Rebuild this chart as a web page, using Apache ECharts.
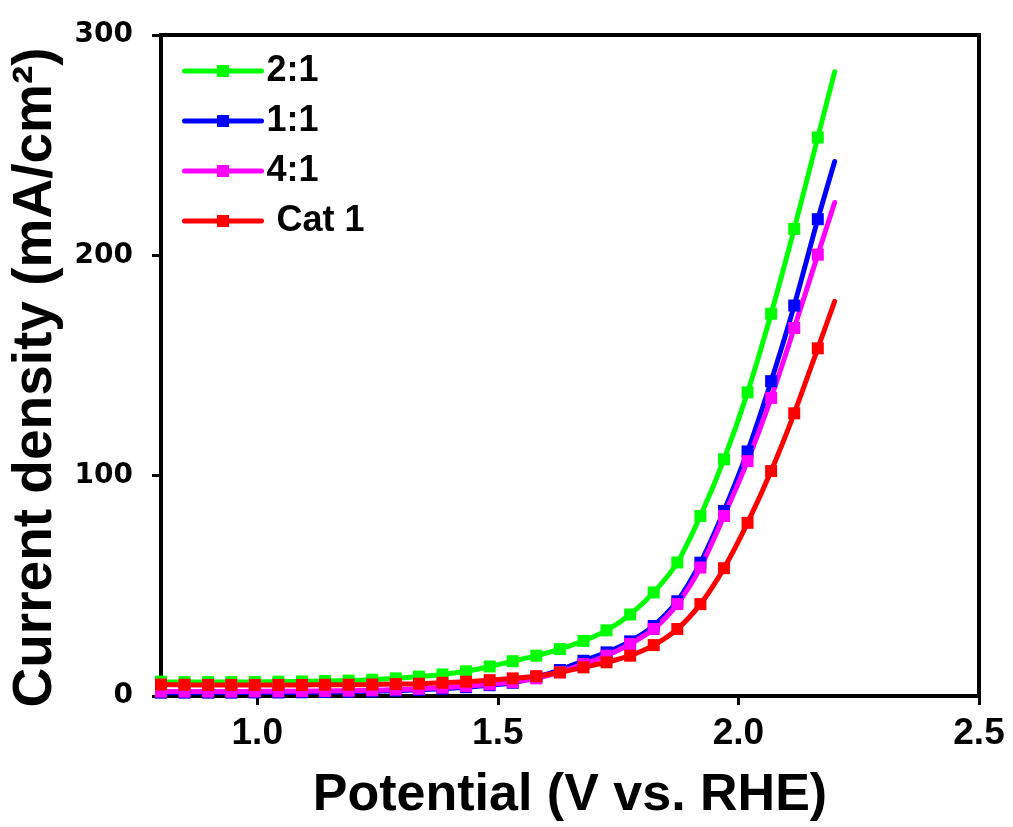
<!DOCTYPE html>
<html>
<head>
<meta charset="utf-8">
<script src="https://cdn.jsdelivr.net/npm/echarts@6/dist/echarts.min.js"></script>
<style>
html,body{margin:0;padding:0;background:#fff;}
#chart{width:1013px;height:827px;}
</style>
</head>
<body>
<div id="chart"></div>
<script>
// Potential (V vs. RHE)
const potentials = [0.800,0.849,0.898,0.946,0.995,1.044,1.093,1.141,1.190,1.239,1.288,1.336,1.385,1.434,1.483,1.531,1.580,1.629,1.678,1.726,1.775,1.824,1.873,1.921,1.970,2.019,2.068,2.116,2.165,2.200];
// Current density (mA/cm2)
const j21   = [6.5,6.3,6.3,6.3,6.4,6.5,6.6,6.8,7.0,7.4,8.0,8.8,9.8,11.2,13.4,15.8,18.3,21.3,25.0,29.8,37.0,47.0,60.6,81.7,107.4,137.8,173.5,212.0,253.5,283.3];
const j11   = [1.5,1.5,1.5,1.5,1.6,1.6,1.7,1.8,1.9,2.1,2.4,2.8,3.3,4.0,4.9,6.0,8.6,11.8,16.0,19.8,24.8,31.8,43.0,60.5,84.0,111.0,142.9,177.2,216.4,242.6];
const j41   = [2.0,2.0,2.0,2.0,2.1,2.1,2.2,2.3,2.4,2.6,2.9,3.3,3.8,4.5,5.3,6.3,8.0,10.8,14.5,18.3,23.6,30.4,41.7,58.3,81.7,106.6,135.3,167.0,200.3,224.0];
const jCat1 = [5.2,5.1,5.0,5.0,5.0,5.0,5.0,5.1,5.1,5.2,5.4,5.6,6.0,6.5,7.2,8.0,9.0,10.7,13.0,15.3,18.3,23.1,30.4,41.7,58.0,78.6,102.1,128.3,157.8,179.1];
const seriesNames = ['2:1','1:1','4:1',' Cat 1'];
const seriesColors = ['#00ff00','#0000ff','#ff00ff','#ff0000'];
const xTicks = [1.0,1.5,2.0,2.5];
const yTicks = [0,100,200,300];

const allValues = [j21,j11,j41,jCat1];
const lastIdx = potentials.length - 1;

const chart = echarts.init(document.getElementById('chart'), null, {renderer:'canvas'});
const series = allValues.map((vals, k) => ({
  name: seriesNames[k],
  type: 'line',
  data: potentials.map((x, i) => i === lastIdx ? {value: [x, vals[i]], symbol: 'none'} : [x, vals[i]]),
  smooth: 0.25,
  symbol: 'rect',
  symbolSize: 12,
  showAllSymbol: true,
  color: seriesColors[k],
  itemStyle: {color: seriesColors[k]},
  lineStyle: {width: 5, color: seriesColors[k], cap: 'round'},
  emphasis: {disabled: true}
}));

chart.setOption({
  animation: false,
  backgroundColor: '#ffffff',
  grid: {left: 161, right: 34, top: 35, bottom: 130, show: true, borderColor: '#000', borderWidth: 4, backgroundColor: '#ffffff'},
  legend: {
    left: 177, top: 48, orient: 'vertical',
    itemWidth: 77, itemHeight: 15, itemGap: 14,
    lineStyle: {width: 5},
    textStyle: {fontFamily: "'Liberation Sans', Arial, sans-serif", fontWeight: 'bold', fontSize: 36, color: '#000', lineHeight: 36},
    data: seriesNames
  },
  xAxis: {
    type: 'value', min: 0.8, max: 2.5,
    name: 'Potential (V vs. RHE)', nameLocation: 'middle', nameGap: 74,
    nameTextStyle: {fontFamily: "'Liberation Sans', Arial, sans-serif", fontWeight: 'bold', fontSize: 52, color: '#000'},
    axisLine: {lineStyle: {color: '#000', width: 4}},
    axisTick: {show: true, inside: false, length: 9, lineStyle: {color: '#000', width: 3}, customValues: xTicks},
    axisLabel: {customValues: xTicks, margin: 19, formatter: v => Number(v).toFixed(1),
      fontFamily: "'Liberation Sans', Arial, sans-serif", fontWeight: 'bold', fontSize: 37, color: '#000'},
    splitLine: {show: false}
  },
  yAxis: {
    type: 'value', min: 0, max: 300, interval: 100,
    name: 'Current density (mA/cm²)', nameLocation: 'middle', nameGap: 94, nameRotate: 90,
    nameTextStyle: {fontFamily: "'Liberation Sans', Arial, sans-serif", fontWeight: 'bold', fontSize: 55, color: '#000', padding: [0, 24, 0, 0]},
    axisLine: {show: true, lineStyle: {color: '#000', width: 4}},
    axisTick: {show: true, inside: false, length: 9, lineStyle: {color: '#000', width: 3}, customValues: yTicks},
    axisLabel: {customValues: yTicks, margin: 28,
      fontFamily: "'DejaVu Sans', sans-serif", fontWeight: 'bold', fontSize: 28, color: '#000'},
    splitLine: {show: false}
  },
  series: series
});
</script>
</body>
</html>
